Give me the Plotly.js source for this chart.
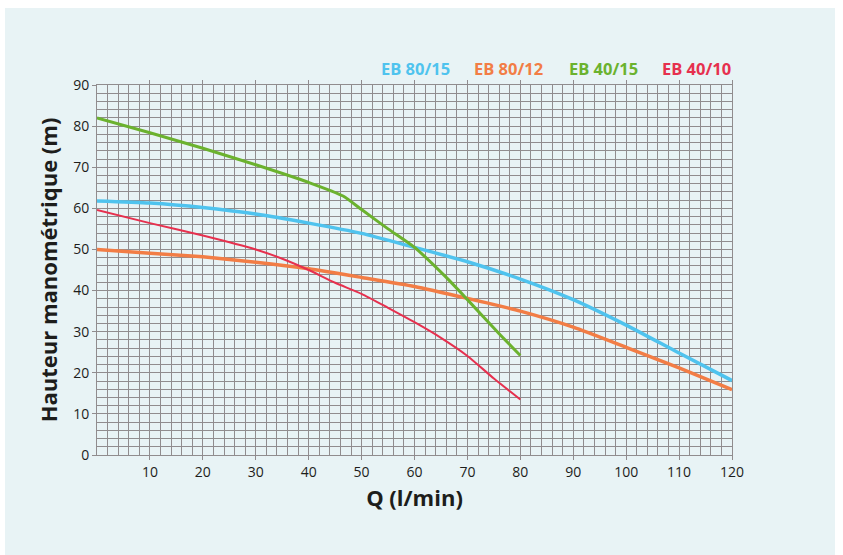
<!DOCTYPE html>
<html><head><meta charset="utf-8">
<script src="https://cdn.plot.ly/plotly-3.0.1.min.js"></script>
<style>
html,body{margin:0;padding:0;background:#ffffff;width:843px;height:555px;overflow:hidden}
#chart{position:absolute;left:5px;top:8px;width:830px;height:547px}
</style></head>
<body><div id="chart"></div>
<script>
// Data (Q in l/min, H in m)
const seriesNames = ["EB 80/15", "EB 80/12", "EB 40/15", "EB 40/10"];
const seriesColors = ["#4fc3ee", "#f27d45", "#6bb22e", "#e6304e"];
const q_eb8015 = [0, 10, 20, 30, 40, 50, 60, 70, 80, 90, 100, 110, 120];
const h_eb8015 = [61.8, 61.3, 60.2, 58.6, 56.4, 53.9, 50.5, 47.0, 42.8, 37.8, 31.6, 24.8, 18.1];
const q_eb8012 = [0, 10, 20, 30, 40, 50, 60, 70, 80, 90, 100, 110, 120];
const h_eb8012 = [50.0, 49.1, 48.2, 46.9, 45.3, 43.2, 41.0, 38.1, 35.0, 31.1, 26.2, 21.2, 15.9];
const q_eb4015 = [0, 10, 20, 30, 40, 46.5, 50, 55, 60, 66, 70, 76, 80];
const h_eb4015 = [82.0, 78.4, 74.6, 70.6, 66.3, 63.0, 59.7, 55.0, 50.5, 43.2, 37.8, 29.5, 24.2];
const q_eb4010 = [0, 10, 20, 30, 35.5, 40, 45, 50, 55, 60, 65, 70, 75, 80];
const h_eb4010 = [59.6, 56.4, 53.4, 50.0, 47.5, 45.0, 41.9, 39.2, 35.8, 32.3, 28.5, 24.1, 18.6, 13.5];
const xTicks = [10, 20, 30, 40, 50, 60, 70, 80, 90, 100, 110, 120];
const yTicks = [0, 10, 20, 30, 40, 50, 60, 70, 80, 90];

const xs = [q_eb8015, q_eb8012, q_eb4015, q_eb4010];
const ys = [h_eb8015, h_eb8012, h_eb4015, h_eb4010];
const widths = [3.5, 3.5, 3, 2];

const traces = seriesNames.map((n, i) => ({
  x: xs[i], y: ys[i], name: n, type: 'scatter', mode: 'lines',
  line: {color: seriesColors[i], width: widths[i], shape: 'spline', smoothing: 0.6},
  showlegend: false, hoverinfo: 'skip'
}));

const bg = '#e8f3f5';
const grid = '#908c8e';
const txt = '#1d1d1b';
const legendX = [415, 508, 603, 696];

const annotations = seriesNames.map((n, i) => ({
  text: n, xref: 'paper', yref: 'paper',
  x: (legendX[i] - 97) / (732 - 97), y: 1, yshift: 3,
  xanchor: 'center', yanchor: 'bottom', showarrow: false,
  font: {family: 'Open Sans', size: 16.5, color: seriesColors[i], weight: 700}
}));

const layout = {
  width: 830, height: 547,
  paper_bgcolor: bg, plot_bgcolor: bg,
  margin: {l: 92, r: 103, t: 77, b: 100},
  font: {family: 'Open Sans', color: txt},
  xaxis: {
    range: [0, 120], tickvals: xTicks, ticktext: xTicks.map(String),
    showgrid: true, gridcolor: grid, gridwidth: 1,
    minor: {dtick: 2, showgrid: true, gridcolor: grid, gridwidth: 1},
    showline: true, linecolor: grid, linewidth: 1, mirror: 'ticks',
    ticks: 'outside', ticklen: 4, tickcolor: grid,
    zeroline: false, tickfont: {size: 14, color: txt},
    title: {text: 'Q (l/min)', font: {size: 22, color: txt, weight: 700}, standoff: 10}
  },
  yaxis: {
    range: [0, 90], tickvals: yTicks, ticktext: yTicks.map(String),
    showgrid: true, gridcolor: grid, gridwidth: 1,
    minor: {dtick: 2, showgrid: true, gridcolor: grid, gridwidth: 1},
    showline: true, linecolor: grid, linewidth: 1, mirror: true,
    ticks: 'outside', ticklen: 4, tickcolor: grid,
    zeroline: false, tickfont: {size: 14, color: txt},
    title: {text: 'Hauteur manométrique (m)', font: {size: 22, color: txt, weight: 700}, standoff: 9}
  },
  annotations: annotations
};

Plotly.newPlot('chart', traces, layout, {displayModeBar: false, staticPlot: true});
</script></body></html>
